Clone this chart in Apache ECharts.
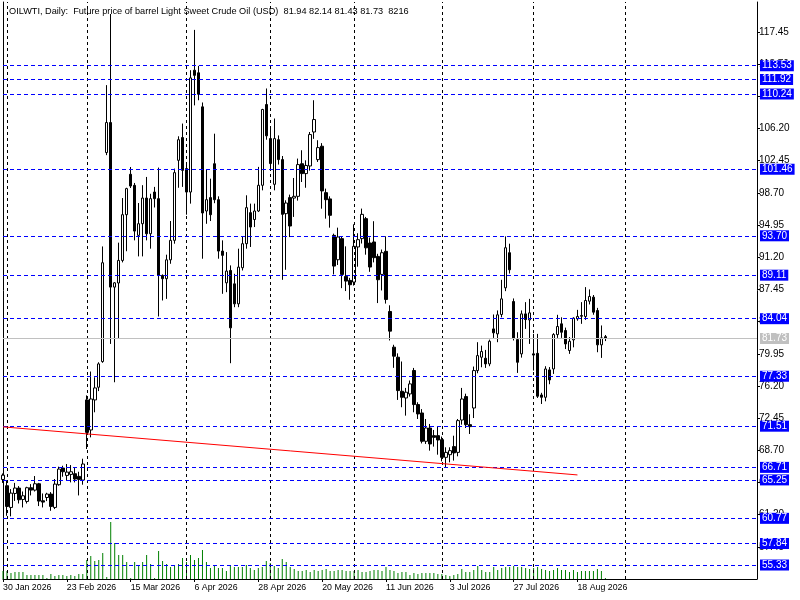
<!DOCTYPE html>
<html><head><meta charset="utf-8">
<script src="https://cdn.jsdelivr.net/npm/echarts@6/dist/echarts.min.js"></script>
<style>html,body{margin:0;padding:0;background:#fff}#c{width:800px;height:600px}</style>
</head><body><div id="c"></div>
<script>
const titleText = 'OILWTI, Daily:  Future price of barrel Light Sweet Crude Oil (USD)  81.94 82.14 81.43 81.73  8216';
const tickLabels = ['30 Jan 2026','23 Feb 2026','15 Mar 2026','6 Apr 2026','28 Apr 2026','20 May 2026','11 Jun 2026','3 Jul 2026','27 Jul 2026','18 Aug 2026'];
const labelEvery = 16;
const slotCount = 190;
const opens = [65.3,64.57,62.04,63.67,64.3,62.97,62.74,64.34,64.06,64.8,
62.82,63.2,63.6,62.04,64.69,66.63,65.77,65.89,65.97,65.66,
65.23,74.57,71.07,74.57,76.05,79.04,103.4,106.9,87.72,88.2,
90.83,96.16,100.87,99.58,93.75,95.11,98.1,93.94,98.8,98.03,
89.08,88.7,90.9,93.17,102.5,105.15,101.53,98.8,113.0,112.7,
108.73,96.59,98.15,102.1,97.91,91.92,88.22,89.66,88.1,85.77,
89.98,92.78,96.4,95.6,96.59,99.59,109.0,105.03,99.7,104.9,
102.58,96.28,98.15,98.1,98.3,102.1,100.95,101.84,105.8,102.58,
104.14,98.73,98.0,93.75,90.91,93.37,88.97,88.5,88.31,92.4,
93.37,95.7,92.86,92.98,91.3,89.2,91.89,84.88,80.72,79.55,
75.58,74.8,75.27,78.0,74.03,73.05,69.75,71.3,70.41,70.41,
69.94,67.88,68.19,69.13,68.46,72.23,74.96,71.69,73.63,77.99,
79.55,79.43,78.77,82.85,82.27,84.53,87.64,91.73,86.04,81.6,
79.94,84.6,83.9,79.94,80.0,75.15,74.88,78.07,78.18,82.19,
83.44,82.66,80.33,81.57,84.02,84.4,84.3,86.08,86.55,84.99,
80.99,81.94];
const highs = [66.0,65.15,64.18,64.9,64.53,63.9,64.45,64.76,65.7,64.9,
63.67,63.75,63.83,65.35,66.79,66.9,67.1,66.98,66.63,66.2,
67.72,75.1,77.88,77.21,78.96,92.46,111.26,119.55,88.3,92.9,
98.1,99.3,101.72,99.86,97.52,99.6,100.56,98.6,99.4,101.65,
89.2,91.5,95.42,101.53,105.3,106.78,102.0,113.0,117.7,113.5,
109.24,101.4,100.36,105.6,98.3,93.17,91.8,90.25,89.27,92.2,
93.67,98.42,97.45,97.45,101.73,108.5,110.87,106.2,107.37,105.4,
103.0,97.84,98.5,100.44,102.7,103.67,102.5,105.8,109.5,104.84,
104.5,99.2,98.3,93.95,94.65,93.6,92.47,88.8,95.04,94.0,
96.87,95.9,93.5,95.4,91.6,92.1,93.64,85.6,81.0,80.0,
79.05,75.97,76.83,78.3,74.3,73.5,72.35,71.77,71.07,71.46,
70.3,69.05,69.05,70.4,72.35,75.97,75.3,72.9,78.46,81.3,
80.9,80.4,81.6,84.53,85.0,88.57,93.63,92.78,86.4,82.46,
85.0,85.97,86.35,82.27,82.27,75.4,78.5,78.4,82.35,84.49,
84.2,83.0,81.9,84.2,85.07,85.97,87.72,87.45,86.8,85.3,
83.25,82.14];
const lows = [64.9,61.07,61.0,62.8,62.5,62.04,62.5,63.44,63.9,62.2,
62.04,62.78,61.65,61.85,64.57,65.62,65.23,64.96,64.96,63.44,
64.69,68.85,70.21,73.13,75.6,78.9,103.1,81.1,76.63,81.7,
90.6,91.9,99.27,93.17,91.3,91.3,93.17,92.2,97.0,84.3,
86.16,86.35,90.44,92.78,99.3,99.4,96.16,97.45,108.9,109.5,
91.03,95.1,95.42,97.5,91.03,86.94,87.13,78.85,85.38,85.38,
89.66,92.2,92.4,94.72,96.47,99.0,104.9,101.5,99.0,102.0,
88.57,89.74,93.55,95.9,97.8,99.97,99.3,101.3,105.0,102.31,
96.86,95.7,94.65,89.2,90.3,87.6,87.26,86.25,87.9,90.1,
92.8,91.5,89.5,90.6,85.86,87.33,85.8,81.5,78.31,74.57,
73.72,72.74,74.96,73.13,72.35,69.5,69.44,68.66,69.13,68.19,
67.41,66.71,67.3,67.5,68.0,71.69,71.3,70.6,72.46,77.68,
78.38,78.3,78.5,81.8,81.3,84.2,87.25,89.3,81.5,77.72,
79.5,82.85,81.1,77.99,74.8,74.1,74.41,76.4,77.6,81.8,
81.8,80.5,79.94,80.7,83.8,83.44,83.9,85.7,84.5,80.13,
79.47,81.43];
const closes = [65.8,62.16,63.71,64.3,62.94,63.4,64.34,64.06,64.8,62.78,
62.66,63.6,62.16,64.76,66.51,66.2,66.16,66.2,65.35,65.31,
67.1,70.79,74.68,75.97,78.77,90.56,106.9,87.72,88.22,90.83,
96.16,99.2,99.5,94.25,95.11,98.1,93.94,98.03,98.03,89.08,
88.7,90.9,93.17,101.06,104.9,101.33,98.8,112.1,112.4,110.2,
96.36,97.91,96.16,97.91,91.92,91.42,89.59,82.97,85.77,90.05,
92.78,96.98,94.72,96.59,99.59,108.42,105.35,102.12,105.03,102.58,
96.2,97.52,94.84,98.3,102.0,100.95,101.9,105.5,107.25,103.98,
98.93,97.91,96.09,90.17,93.56,89.2,88.42,88.0,92.47,93.25,
96.2,92.3,90.06,91.15,88.58,91.73,86.28,82.59,79.67,75.66,
74.88,75.47,76.44,74.03,72.94,69.75,71.3,69.44,70.21,69.9,
67.88,68.46,68.66,68.4,72.16,74.68,71.69,71.46,77.99,79.74,
80.21,78.77,81.41,82.39,84.49,86.35,92.31,89.74,81.8,78.96,
84.6,83.94,84.72,79.8,75.0,74.88,78.18,76.9,82.19,83.13,
82.46,81.1,81.41,84.1,84.3,84.33,86.16,86.63,84.8,80.99,
81.8,81.73];
const volumes = [8,8,6,7,7,7,4,4,4,4,
4,1,5,3,4,4,3,4,3,5,
5,19,23,18,19,26,2,57,36,24,
24,17,1,17,13,17,24,15,1,28,
18,15,12,13,15,21,17,24,19,21,
29,17,11,13,11,11,8,13,12,12,
12,14,11,9,11,12,18,16,13,11,
20,17,12,10,8,8,9,7,9,8,
9,10,8,8,9,9,8,8,8,9,
7,7,8,9,9,8,12,9,8,6,
7,7,4,6,5,6,6,6,6,5,
5,4,3,4,5,10,7,7,9,13,
9,7,7,12,9,11,12,12,13,12,
12,11,10,11,12,10,9,8,9,11,
9,9,7,9,7,8,8,8,8,10,
8,1];
const levels = [113.53,111.92,110.24,101.46,93.70,89.11,84.04,77.33,71.51,66.71,65.25,60.77,57.84,55.33];
const lastPrice = 81.73;
const vGrid = [1,21,46,67,88,110,133,156];
const trendStart = [0, 71.43];
const trendEnd = [144, 65.83];

const cats = Array.from({length: slotCount}, (_, i) => String(i));
const candleData = opens.map((o, i) => [o, closes[i], lows[i], highs[i]]);
const FONT = 'Liberation Sans';
const showTick = i => i % labelEvery === 0 && i / labelEvery < tickLabels.length;

const levelLines = levels.map(v => ({
  yAxis: v,
  lineStyle: {color: '#0000ff', type: [4, 3], width: 1, opacity: 1},
  label: {show: true, position: 'end', distance: 3, formatter: v.toFixed(2), color: '#fff',
          backgroundColor: '#0000ff', padding: [1, 2, 0, 2], fontSize: 10, fontFamily: FONT}
}));
levelLines.push({
  yAxis: lastPrice,
  lineStyle: {color: '#c0c0c0', type: 'solid', width: 1},
  label: {show: true, position: 'end', distance: 3, formatter: lastPrice.toFixed(2), color: '#fff',
          backgroundColor: '#c0c0c0', padding: [1, 2, 0, 2], fontSize: 10, fontFamily: FONT}
});
levelLines.push([
  {coord: trendStart, lineStyle: {color: '#ff0000', type: 'solid', width: 1}, label: {show: false}},
  {coord: trendEnd}
]);

const chart = echarts.init(document.getElementById('c'), null, {renderer: 'canvas'});
chart.setOption({
  animation: false,
  backgroundColor: '#fff',
  title: {text: titleText, left: 4, top: 2,
          textStyle: {fontSize: 9.2, fontWeight: 'normal', color: '#000', fontFamily: FONT}},
  grid: {left: 2.3, right: 43, top: 2, bottom: 21, containLabel: false},
  xAxis: {
    type: 'category', data: cats, boundaryGap: false,
    axisLine: {show: true, lineStyle: {color: '#000', width: 1}},
    axisTick: {show: true, interval: showTick, length: 3, lineStyle: {color: '#000'}},
    axisLabel: {interval: showTick, formatter: (v, i) => tickLabels[i / labelEvery] || '',
                align: 'left', margin: 4, fontSize: 8.8, color: '#000', fontFamily: FONT,
                showMinLabel: true},
    splitLine: {show: false}
  },
  yAxis: [{
    type: 'value', position: 'right', min: 53.70, max: 120.95, interval: 3.75,
    axisLine: {show: true, lineStyle: {color: '#000'}},
    axisTick: {show: true, length: 3, lineStyle: {color: '#000'}},
    axisLabel: {color: '#000', fontSize: 10, margin: 2, fontFamily: FONT,
                formatter: v => v.toFixed(2), showMinLabel: false, showMaxLabel: false},
    splitLine: {show: false}
  }, {
    type: 'value', position: 'left', min: 0, max: 577,
    axisLine: {show: true, lineStyle: {color: '#000'}},
    axisTick: {show: false}, axisLabel: {show: false}, splitLine: {show: false}
  }],
  series: [{
    type: 'bar', yAxisIndex: 1, data: volumes, barWidth: 1, z: 1,
    itemStyle: {color: '#008000'},
    markLine: {silent: true, symbol: 'none', animation: false,
      data: vGrid.map(k => ({xAxis: k})),
      lineStyle: {color: '#000', type: [3, 3], width: 1}, label: {show: false}}
  }, {
    type: 'candlestick', data: candleData, barWidth: 3, z: 2,
    itemStyle: {color: '#fff', color0: '#000', borderColor: '#000', borderColor0: '#000', borderWidth: 1},
    markLine: {silent: true, symbol: 'none', animation: false, data: levelLines}
  }]
});
</script></body></html>
